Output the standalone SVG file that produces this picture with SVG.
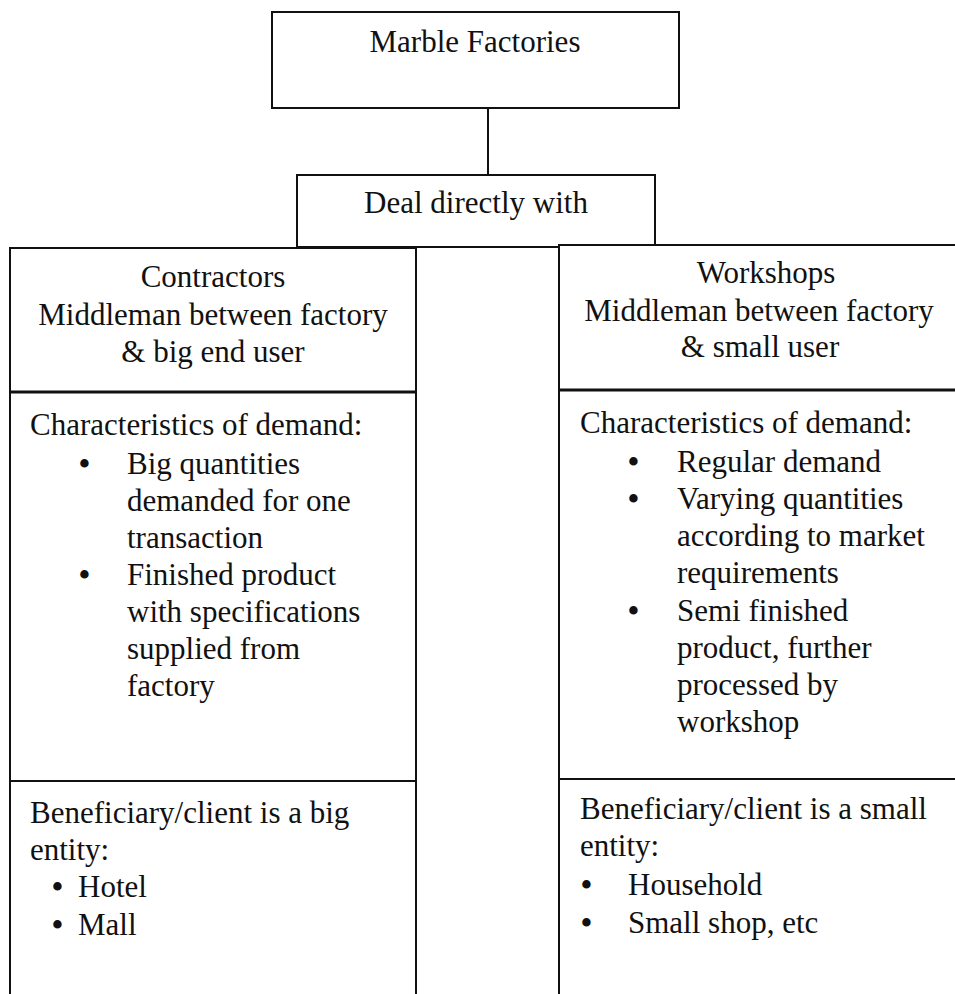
<svg xmlns="http://www.w3.org/2000/svg" width="955" height="994" viewBox="0 0 955 994">
<style>
.box{fill:#fff;stroke:#111;stroke-width:2}
.sep{stroke:#111;stroke-width:3}
.row{stroke:#111;stroke-width:2}
.conn{stroke:#111;stroke-width:2;fill:none}
text{font-family:'Liberation Serif',serif;font-size:31px;fill:#111}
.c{text-anchor:middle}
.b{font-weight:bold}
</style>
<rect width="955" height="994" fill="#fff"/>
<g id="connectors">
<line class="conn" x1="488" y1="108" x2="488" y2="175"/>
</g>
<g id="marble-factories">
<rect class="box" x="272" y="12" width="407" height="96"/>
<text class="c" x="475" y="52">Marble Factories</text>
</g>
<g id="deal-directly">
<rect class="box" x="297" y="175" width="358" height="72"/>
<text class="c" x="476" y="213">Deal directly with</text>
</g>
<g id="contractors">
<rect class="box" x="10" y="248" width="406" height="760"/>
<line class="sep" x1="10" y1="392" x2="416" y2="392"/>
<line class="row" x1="10" y1="781" x2="416" y2="781"/>
<text class="c" x="213" y="287">Contractors</text>
<text class="c" x="213" y="325">Middleman between factory</text>
<text class="c" x="213" y="362">&amp; big end user</text>
</g>
<g id="contractors-demand">
<text x="30" y="435">Characteristics of demand:</text>
<text class="b" x="79" y="474">•</text>
<text x="127" y="474">Big quantities</text>
<text x="127" y="511">demanded for one</text>
<text x="127" y="548">transaction</text>
<text class="b" x="79" y="585">•</text>
<text x="127" y="585">Finished product</text>
<text x="127" y="622">with specifications</text>
<text x="127" y="659">supplied from</text>
<text x="127" y="696">factory</text>
</g>
<g id="contractors-beneficiary">
<text x="30" y="823">Beneficiary/client is a big</text>
<text x="30" y="860">entity:</text>
<text class="b" x="52" y="897">•</text>
<text x="78" y="897">Hotel</text>
<text class="b" x="52" y="935">•</text>
<text x="78" y="935">Mall</text>
</g>
<g id="workshops">
<rect class="box" x="559" y="245" width="410" height="760"/>
<line class="sep" x1="559" y1="390" x2="969" y2="390"/>
<line class="row" x1="559" y1="779" x2="969" y2="779"/>
<text class="c" x="766" y="283">Workshops</text>
<text class="c" x="759" y="321">Middleman between factory</text>
<text class="c" x="760" y="357">&amp; small user</text>
</g>
<g id="workshops-demand">
<text x="580" y="433">Characteristics of demand:</text>
<text class="b" x="628" y="472">•</text>
<text x="677" y="472">Regular demand</text>
<text class="b" x="628" y="509">•</text>
<text x="677" y="509">Varying quantities</text>
<text x="677" y="546">according to market</text>
<text x="677" y="583">requirements</text>
<text class="b" x="628" y="621">•</text>
<text x="677" y="621">Semi finished</text>
<text x="677" y="658">product, further</text>
<text x="677" y="695">processed by</text>
<text x="677" y="732">workshop</text>
</g>
<g id="workshops-beneficiary">
<text x="580" y="819">Beneficiary/client is a small</text>
<text x="580" y="856">entity:</text>
<text class="b" x="581" y="895">•</text>
<text x="628" y="895">Household</text>
<text class="b" x="581" y="933">•</text>
<text x="628" y="933">Small shop, etc</text>
</g>
</svg>
